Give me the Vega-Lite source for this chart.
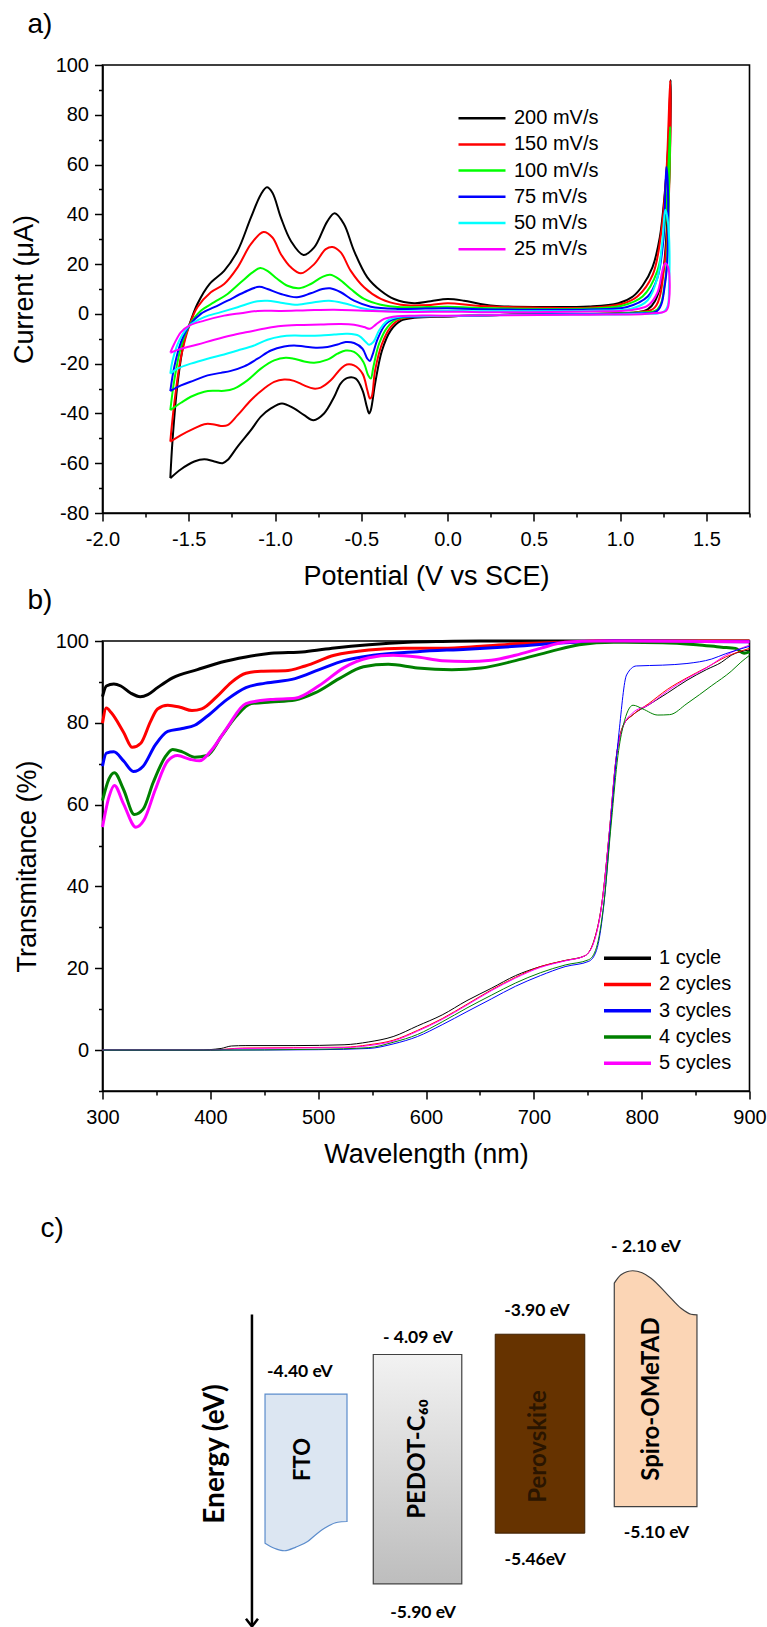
{
"$schema":"https://vega.github.io/schema/vega-lite/v6.json",
"padding":{"left":8.5,"top":10,"right":5,"bottom":0},
"background":"white",
"config":{"font":"Liberation Sans","view":{"stroke":"black","strokeWidth":1.6},
"axis":{"domainColor":"black","domainWidth":1.6,"tickColor":"black","tickWidth":1.5,"labelColor":"black","titleColor":"black","labelFont":"Liberation Sans","titleFont":"Liberation Sans","labelFontSize":20,"titleFontSize":27,"titleFontWeight":"normal","grid":false,"labelFlush":false,"labelOverlap":false},
"legend":{"labelFont":"Liberation Sans","labelFontSize":20,"labelColor":"black"}},
"spacing":128,
"bounds":"flush",
"resolve":{"scale":{"color":"independent"},"legend":{"color":"independent"}},
"vconcat":[
{"width":647,"height":448,
"title":{"text":"a)","anchor":"start","frame":"group","dx":-75,"offset":16,"fontSize":28,"fontWeight":"normal","font":"Liberation Sans","color":"black"},
"data":{"values":[
{"s":"200 mV/s","i":1,"x":-1.607,"y":-66},{"s":"200 mV/s","i":2,"x":-1.594,"y":-50.7},{"s":"200 mV/s","i":3,"x":-1.565,"y":-28},{"s":"200 mV/s","i":4,"x":-1.526,"y":-10.7},{"s":"200 mV/s","i":5,"x":-1.488,"y":-2.7},{"s":"200 mV/s","i":6,"x":-1.45,"y":4},{"s":"200 mV/s","i":7,"x":-1.38,"y":12},{"s":"200 mV/s","i":8,"x":-1.295,"y":17.3},{"s":"200 mV/s","i":9,"x":-1.217,"y":25.3},{"s":"200 mV/s","i":10,"x":-1.14,"y":38.7},{"s":"200 mV/s","i":11,"x":-1.082,"y":48},{"s":"200 mV/s","i":12,"x":-1.047,"y":50.9},{"s":"200 mV/s","i":13,"x":-1.015,"y":48.7},{"s":"200 mV/s","i":14,"x":-0.966,"y":38.7},{"s":"200 mV/s","i":15,"x":-0.908,"y":29.3},{"s":"200 mV/s","i":16,"x":-0.835,"y":23.7},{"s":"200 mV/s","i":17,"x":-0.773,"y":26.7},{"s":"200 mV/s","i":18,"x":-0.696,"y":37.3},{"s":"200 mV/s","i":19,"x":-0.654,"y":40.4},{"s":"200 mV/s","i":20,"x":-0.6,"y":36},{"s":"200 mV/s","i":21,"x":-0.542,"y":25.3},{"s":"200 mV/s","i":22,"x":-0.465,"y":14.7},{"s":"200 mV/s","i":23,"x":-0.387,"y":9.3},{"s":"200 mV/s","i":24,"x":-0.31,"y":6},{"s":"200 mV/s","i":25,"x":-0.194,"y":4.3},{"s":"200 mV/s","i":26,"x":-0.098,"y":5.1},{"s":"200 mV/s","i":27,"x":0,"y":6},{"s":"200 mV/s","i":28,"x":0.095,"y":5.3},{"s":"200 mV/s","i":29,"x":0.19,"y":4},{"s":"200 mV/s","i":30,"x":0.3,"y":3.1},{"s":"200 mV/s","i":31,"x":0.535,"y":2.8},{"s":"200 mV/s","i":32,"x":0.819,"y":3},{"s":"200 mV/s","i":33,"x":0.99,"y":4.3},{"s":"200 mV/s","i":34,"x":1.074,"y":7},{"s":"200 mV/s","i":35,"x":1.131,"y":11.4},{"s":"200 mV/s","i":36,"x":1.188,"y":18.8},{"s":"200 mV/s","i":37,"x":1.23,"y":30.7},{"s":"200 mV/s","i":38,"x":1.259,"y":48.5},{"s":"200 mV/s","i":39,"x":1.278,"y":66.3},{"s":"200 mV/s","i":40,"x":1.293,"y":94},{"s":"200 mV/s","i":41,"x":1.293,"y":81},{"s":"200 mV/s","i":42,"x":1.273,"y":36.6},{"s":"200 mV/s","i":43,"x":1.23,"y":10},{"s":"200 mV/s","i":44,"x":1.16,"y":1.8},{"s":"200 mV/s","i":45,"x":0.96,"y":0.3},{"s":"200 mV/s","i":46,"x":0.535,"y":-0.1},{"s":"200 mV/s","i":47,"x":0.19,"y":-0.6},{"s":"200 mV/s","i":48,"x":0,"y":-1},{"s":"200 mV/s","i":49,"x":-0.194,"y":-1.6},{"s":"200 mV/s","i":50,"x":-0.27,"y":-2.7},{"s":"200 mV/s","i":51,"x":-0.33,"y":-6.7},{"s":"200 mV/s","i":52,"x":-0.38,"y":-14.7},{"s":"200 mV/s","i":53,"x":-0.42,"y":-28},{"s":"200 mV/s","i":54,"x":-0.445,"y":-38.7},{"s":"200 mV/s","i":55,"x":-0.455,"y":-40},{"s":"200 mV/s","i":56,"x":-0.468,"y":-37.3},{"s":"200 mV/s","i":57,"x":-0.493,"y":-30.7},{"s":"200 mV/s","i":58,"x":-0.532,"y":-26},{"s":"200 mV/s","i":59,"x":-0.58,"y":-25.7},{"s":"200 mV/s","i":60,"x":-0.62,"y":-28},{"s":"200 mV/s","i":61,"x":-0.657,"y":-33.3},{"s":"200 mV/s","i":62,"x":-0.716,"y":-40},{"s":"200 mV/s","i":63,"x":-0.777,"y":-42.7},{"s":"200 mV/s","i":64,"x":-0.831,"y":-40.7},{"s":"200 mV/s","i":65,"x":-0.89,"y":-38},{"s":"200 mV/s","i":66,"x":-0.96,"y":-36},{"s":"200 mV/s","i":67,"x":-1.024,"y":-38},{"s":"200 mV/s","i":68,"x":-1.082,"y":-41.3},{"s":"200 mV/s","i":69,"x":-1.14,"y":-46.7},{"s":"200 mV/s","i":70,"x":-1.217,"y":-53.3},{"s":"200 mV/s","i":71,"x":-1.275,"y":-58.7},{"s":"200 mV/s","i":72,"x":-1.304,"y":-60},{"s":"200 mV/s","i":73,"x":-1.352,"y":-59.3},{"s":"200 mV/s","i":74,"x":-1.41,"y":-58.4},{"s":"200 mV/s","i":75,"x":-1.468,"y":-59.3},{"s":"200 mV/s","i":76,"x":-1.545,"y":-62.4},{"s":"200 mV/s","i":77,"x":-1.607,"y":-66},
{"s":"150 mV/s","i":1,"x":-1.607,"y":-51.3},{"s":"150 mV/s","i":2,"x":-1.584,"y":-36},{"s":"150 mV/s","i":3,"x":-1.545,"y":-17.3},{"s":"150 mV/s","i":4,"x":-1.497,"y":-4.7},{"s":"150 mV/s","i":5,"x":-1.45,"y":2.7},{"s":"150 mV/s","i":6,"x":-1.372,"y":8.7},{"s":"150 mV/s","i":7,"x":-1.295,"y":12},{"s":"150 mV/s","i":8,"x":-1.217,"y":18.7},{"s":"150 mV/s","i":9,"x":-1.14,"y":28},{"s":"150 mV/s","i":10,"x":-1.067,"y":32.9},{"s":"150 mV/s","i":11,"x":-1.015,"y":30.7},{"s":"150 mV/s","i":12,"x":-0.966,"y":24},{"s":"150 mV/s","i":13,"x":-0.908,"y":18.7},{"s":"150 mV/s","i":14,"x":-0.85,"y":16.3},{"s":"150 mV/s","i":15,"x":-0.773,"y":20},{"s":"150 mV/s","i":16,"x":-0.706,"y":26},{"s":"150 mV/s","i":17,"x":-0.667,"y":26.9},{"s":"150 mV/s","i":18,"x":-0.619,"y":24.7},{"s":"150 mV/s","i":19,"x":-0.561,"y":17.3},{"s":"150 mV/s","i":20,"x":-0.484,"y":10.7},{"s":"150 mV/s","i":21,"x":-0.387,"y":6},{"s":"150 mV/s","i":22,"x":-0.271,"y":3.7},{"s":"150 mV/s","i":23,"x":-0.098,"y":3.6},{"s":"150 mV/s","i":24,"x":0,"y":4.3},{"s":"150 mV/s","i":25,"x":0.19,"y":3.2},{"s":"150 mV/s","i":26,"x":0.535,"y":2.5},{"s":"150 mV/s","i":27,"x":0.82,"y":2.5},{"s":"150 mV/s","i":28,"x":1.01,"y":4},{"s":"150 mV/s","i":29,"x":1.1,"y":7},{"s":"150 mV/s","i":30,"x":1.19,"y":15.9},{"s":"150 mV/s","i":31,"x":1.24,"y":33.7},{"s":"150 mV/s","i":32,"x":1.27,"y":58.9},{"s":"150 mV/s","i":33,"x":1.29,"y":93.7},{"s":"150 mV/s","i":34,"x":1.29,"y":66},{"s":"150 mV/s","i":35,"x":1.26,"y":21.8},{"s":"150 mV/s","i":36,"x":1.2,"y":2.5},{"s":"150 mV/s","i":37,"x":1.1,"y":0.7},{"s":"150 mV/s","i":38,"x":0.535,"y":-0.1},{"s":"150 mV/s","i":39,"x":0.19,"y":-0.6},{"s":"150 mV/s","i":40,"x":0,"y":-1},{"s":"150 mV/s","i":41,"x":-0.194,"y":-1.3},{"s":"150 mV/s","i":42,"x":-0.27,"y":-2},{"s":"150 mV/s","i":43,"x":-0.33,"y":-5.3},{"s":"150 mV/s","i":44,"x":-0.38,"y":-12},{"s":"150 mV/s","i":45,"x":-0.42,"y":-22.7},{"s":"150 mV/s","i":46,"x":-0.44,"y":-33.3},{"s":"150 mV/s","i":47,"x":-0.45,"y":-34},{"s":"150 mV/s","i":48,"x":-0.465,"y":-30.7},{"s":"150 mV/s","i":49,"x":-0.493,"y":-24},{"s":"150 mV/s","i":50,"x":-0.542,"y":-20.7},{"s":"150 mV/s","i":51,"x":-0.584,"y":-20.3},{"s":"150 mV/s","i":52,"x":-0.619,"y":-22},{"s":"150 mV/s","i":53,"x":-0.677,"y":-26.7},{"s":"150 mV/s","i":54,"x":-0.735,"y":-29.6},{"s":"150 mV/s","i":55,"x":-0.777,"y":-30},{"s":"150 mV/s","i":56,"x":-0.831,"y":-28.7},{"s":"150 mV/s","i":57,"x":-0.89,"y":-26.9},{"s":"150 mV/s","i":58,"x":-0.947,"y":-26.4},{"s":"150 mV/s","i":59,"x":-1.005,"y":-27.3},{"s":"150 mV/s","i":60,"x":-1.063,"y":-30},{"s":"150 mV/s","i":61,"x":-1.14,"y":-34.7},{"s":"150 mV/s","i":62,"x":-1.217,"y":-40.7},{"s":"150 mV/s","i":63,"x":-1.275,"y":-44.7},{"s":"150 mV/s","i":64,"x":-1.314,"y":-45},{"s":"150 mV/s","i":65,"x":-1.362,"y":-44.3},{"s":"150 mV/s","i":66,"x":-1.41,"y":-44.3},{"s":"150 mV/s","i":67,"x":-1.468,"y":-46},{"s":"150 mV/s","i":68,"x":-1.545,"y":-48.7},{"s":"150 mV/s","i":69,"x":-1.607,"y":-51.3},
{"s":"100 mV/s","i":1,"x":-1.607,"y":-38.7},{"s":"100 mV/s","i":2,"x":-1.584,"y":-26.7},{"s":"100 mV/s","i":3,"x":-1.545,"y":-13.3},{"s":"100 mV/s","i":4,"x":-1.497,"y":-4.7},{"s":"100 mV/s","i":5,"x":-1.43,"y":1.3},{"s":"100 mV/s","i":6,"x":-1.352,"y":4.7},{"s":"100 mV/s","i":7,"x":-1.275,"y":8},{"s":"100 mV/s","i":8,"x":-1.198,"y":12.7},{"s":"100 mV/s","i":9,"x":-1.13,"y":16.7},{"s":"100 mV/s","i":10,"x":-1.086,"y":18.4},{"s":"100 mV/s","i":11,"x":-1.044,"y":17.3},{"s":"100 mV/s","i":12,"x":-0.986,"y":14},{"s":"100 mV/s","i":13,"x":-0.928,"y":11.3},{"s":"100 mV/s","i":14,"x":-0.86,"y":10.3},{"s":"100 mV/s","i":15,"x":-0.793,"y":12},{"s":"100 mV/s","i":16,"x":-0.725,"y":14.9},{"s":"100 mV/s","i":17,"x":-0.681,"y":15.7},{"s":"100 mV/s","i":18,"x":-0.629,"y":14},{"s":"100 mV/s","i":19,"x":-0.561,"y":10},{"s":"100 mV/s","i":20,"x":-0.484,"y":6},{"s":"100 mV/s","i":21,"x":-0.387,"y":3.7},{"s":"100 mV/s","i":22,"x":-0.271,"y":2.7},{"s":"100 mV/s","i":23,"x":0,"y":2.9},{"s":"100 mV/s","i":24,"x":0.19,"y":2.4},{"s":"100 mV/s","i":25,"x":0.82,"y":2.2},{"s":"100 mV/s","i":26,"x":1.01,"y":3.3},{"s":"100 mV/s","i":27,"x":1.13,"y":7},{"s":"100 mV/s","i":28,"x":1.216,"y":17.3},{"s":"100 mV/s","i":29,"x":1.26,"y":36.6},{"s":"100 mV/s","i":30,"x":1.28,"y":58.9},{"s":"100 mV/s","i":31,"x":1.29,"y":75.2},{"s":"100 mV/s","i":32,"x":1.284,"y":51.5},{"s":"100 mV/s","i":33,"x":1.26,"y":12.9},{"s":"100 mV/s","i":34,"x":1.216,"y":1.8},{"s":"100 mV/s","i":35,"x":1.1,"y":0.6},{"s":"100 mV/s","i":36,"x":0.535,"y":-0.1},{"s":"100 mV/s","i":37,"x":0,"y":-0.9},{"s":"100 mV/s","i":38,"x":-0.194,"y":-1.1},{"s":"100 mV/s","i":39,"x":-0.29,"y":-2},{"s":"100 mV/s","i":40,"x":-0.348,"y":-5.3},{"s":"100 mV/s","i":41,"x":-0.397,"y":-12},{"s":"100 mV/s","i":42,"x":-0.43,"y":-21.3},{"s":"100 mV/s","i":43,"x":-0.445,"y":-26},{"s":"100 mV/s","i":44,"x":-0.46,"y":-24.7},{"s":"100 mV/s","i":45,"x":-0.488,"y":-19.3},{"s":"100 mV/s","i":46,"x":-0.542,"y":-15.3},{"s":"100 mV/s","i":47,"x":-0.59,"y":-14.7},{"s":"100 mV/s","i":48,"x":-0.638,"y":-16},{"s":"100 mV/s","i":49,"x":-0.696,"y":-18.4},{"s":"100 mV/s","i":50,"x":-0.773,"y":-19.6},{"s":"100 mV/s","i":51,"x":-0.831,"y":-19.1},{"s":"100 mV/s","i":52,"x":-0.89,"y":-18},{"s":"100 mV/s","i":53,"x":-0.938,"y":-17.6},{"s":"100 mV/s","i":54,"x":-1.005,"y":-18.7},{"s":"100 mV/s","i":55,"x":-1.082,"y":-22},{"s":"100 mV/s","i":56,"x":-1.16,"y":-26.7},{"s":"100 mV/s","i":57,"x":-1.237,"y":-30},{"s":"100 mV/s","i":58,"x":-1.295,"y":-30.9},{"s":"100 mV/s","i":59,"x":-1.352,"y":-30.9},{"s":"100 mV/s","i":60,"x":-1.41,"y":-31.3},{"s":"100 mV/s","i":61,"x":-1.488,"y":-33.3},{"s":"100 mV/s","i":62,"x":-1.545,"y":-35.7},{"s":"100 mV/s","i":63,"x":-1.607,"y":-38.7},
{"s":"75 mV/s","i":1,"x":-1.607,"y":-31},{"s":"75 mV/s","i":2,"x":-1.584,"y":-21.3},{"s":"75 mV/s","i":3,"x":-1.545,"y":-11.3},{"s":"75 mV/s","i":4,"x":-1.497,"y":-4.7},{"s":"75 mV/s","i":5,"x":-1.43,"y":0},{"s":"75 mV/s","i":6,"x":-1.352,"y":2.7},{"s":"75 mV/s","i":7,"x":-1.275,"y":5.3},{"s":"75 mV/s","i":8,"x":-1.179,"y":8.7},{"s":"75 mV/s","i":9,"x":-1.092,"y":10.9},{"s":"75 mV/s","i":10,"x":-1.044,"y":10},{"s":"75 mV/s","i":11,"x":-0.966,"y":8},{"s":"75 mV/s","i":12,"x":-0.873,"y":6.7},{"s":"75 mV/s","i":13,"x":-0.793,"y":8.3},{"s":"75 mV/s","i":14,"x":-0.725,"y":10},{"s":"75 mV/s","i":15,"x":-0.681,"y":10.3},{"s":"75 mV/s","i":16,"x":-0.619,"y":8.7},{"s":"75 mV/s","i":17,"x":-0.542,"y":5.3},{"s":"75 mV/s","i":18,"x":-0.445,"y":2.9},{"s":"75 mV/s","i":19,"x":-0.29,"y":2},{"s":"75 mV/s","i":20,"x":0,"y":2.3},{"s":"75 mV/s","i":21,"x":0.19,"y":1.9},{"s":"75 mV/s","i":22,"x":0.82,"y":1.8},{"s":"75 mV/s","i":23,"x":1.04,"y":2.8},{"s":"75 mV/s","i":24,"x":1.16,"y":7},{"s":"75 mV/s","i":25,"x":1.216,"y":14.4},{"s":"75 mV/s","i":26,"x":1.25,"y":29.2},{"s":"75 mV/s","i":27,"x":1.268,"y":59},{"s":"75 mV/s","i":28,"x":1.278,"y":48.5},{"s":"75 mV/s","i":29,"x":1.262,"y":12.9},{"s":"75 mV/s","i":30,"x":1.216,"y":1.3},{"s":"75 mV/s","i":31,"x":1.1,"y":0.3},{"s":"75 mV/s","i":32,"x":0.535,"y":-0.1},{"s":"75 mV/s","i":33,"x":0,"y":-0.9},{"s":"75 mV/s","i":34,"x":-0.194,"y":-1.1},{"s":"75 mV/s","i":35,"x":-0.29,"y":-1.6},{"s":"75 mV/s","i":36,"x":-0.357,"y":-4},{"s":"75 mV/s","i":37,"x":-0.405,"y":-10},{"s":"75 mV/s","i":38,"x":-0.436,"y":-16.7},{"s":"75 mV/s","i":39,"x":-0.45,"y":-18.9},{"s":"75 mV/s","i":40,"x":-0.465,"y":-18},{"s":"75 mV/s","i":41,"x":-0.493,"y":-14},{"s":"75 mV/s","i":42,"x":-0.542,"y":-11.7},{"s":"75 mV/s","i":43,"x":-0.59,"y":-11.3},{"s":"75 mV/s","i":44,"x":-0.638,"y":-12.3},{"s":"75 mV/s","i":45,"x":-0.696,"y":-13.3},{"s":"75 mV/s","i":46,"x":-0.764,"y":-13.6},{"s":"75 mV/s","i":47,"x":-0.831,"y":-13.1},{"s":"75 mV/s","i":48,"x":-0.89,"y":-12.7},{"s":"75 mV/s","i":49,"x":-0.947,"y":-13.1},{"s":"75 mV/s","i":50,"x":-1.024,"y":-14.7},{"s":"75 mV/s","i":51,"x":-1.101,"y":-18},{"s":"75 mV/s","i":52,"x":-1.179,"y":-21.1},{"s":"75 mV/s","i":53,"x":-1.256,"y":-22.9},{"s":"75 mV/s","i":54,"x":-1.314,"y":-23.7},{"s":"75 mV/s","i":55,"x":-1.391,"y":-24.7},{"s":"75 mV/s","i":56,"x":-1.468,"y":-26.7},{"s":"75 mV/s","i":57,"x":-1.545,"y":-28.7},{"s":"75 mV/s","i":58,"x":-1.607,"y":-31},
{"s":"50 mV/s","i":1,"x":-1.607,"y":-24},{"s":"50 mV/s","i":2,"x":-1.594,"y":-18.7},{"s":"50 mV/s","i":3,"x":-1.555,"y":-10.7},{"s":"50 mV/s","i":4,"x":-1.497,"y":-4.7},{"s":"50 mV/s","i":5,"x":-1.41,"y":-1.3},{"s":"50 mV/s","i":6,"x":-1.314,"y":0.7},{"s":"50 mV/s","i":7,"x":-1.217,"y":2.7},{"s":"50 mV/s","i":8,"x":-1.101,"y":5.1},{"s":"50 mV/s","i":9,"x":-1.044,"y":5.3},{"s":"50 mV/s","i":10,"x":-0.966,"y":4.5},{"s":"50 mV/s","i":11,"x":-0.87,"y":3.7},{"s":"50 mV/s","i":12,"x":-0.773,"y":4.7},{"s":"50 mV/s","i":13,"x":-0.687,"y":5.3},{"s":"50 mV/s","i":14,"x":-0.6,"y":4.3},{"s":"50 mV/s","i":15,"x":-0.503,"y":2.4},{"s":"50 mV/s","i":16,"x":-0.387,"y":1.3},{"s":"50 mV/s","i":17,"x":-0.194,"y":1.1},{"s":"50 mV/s","i":18,"x":0,"y":1.3},{"s":"50 mV/s","i":19,"x":0.19,"y":1.1},{"s":"50 mV/s","i":20,"x":0.82,"y":1.3},{"s":"50 mV/s","i":21,"x":1.07,"y":2.2},{"s":"50 mV/s","i":22,"x":1.16,"y":5.5},{"s":"50 mV/s","i":23,"x":1.216,"y":14.4},{"s":"50 mV/s","i":24,"x":1.245,"y":29.2},{"s":"50 mV/s","i":25,"x":1.262,"y":41.8},{"s":"50 mV/s","i":26,"x":1.278,"y":36.6},{"s":"50 mV/s","i":27,"x":1.284,"y":12.9},{"s":"50 mV/s","i":28,"x":1.26,"y":1.3},{"s":"50 mV/s","i":29,"x":1.1,"y":0.1},{"s":"50 mV/s","i":30,"x":0.535,"y":-0.3},{"s":"50 mV/s","i":31,"x":0,"y":-0.8},{"s":"50 mV/s","i":32,"x":-0.194,"y":-0.9},{"s":"50 mV/s","i":33,"x":-0.29,"y":-1.3},{"s":"50 mV/s","i":34,"x":-0.348,"y":-2.7},{"s":"50 mV/s","i":35,"x":-0.397,"y":-6.7},{"s":"50 mV/s","i":36,"x":-0.43,"y":-11.3},{"s":"50 mV/s","i":37,"x":-0.455,"y":-12.4},{"s":"50 mV/s","i":38,"x":-0.474,"y":-11.3},{"s":"50 mV/s","i":39,"x":-0.513,"y":-8.8},{"s":"50 mV/s","i":40,"x":-0.58,"y":-8},{"s":"50 mV/s","i":41,"x":-0.657,"y":-8.3},{"s":"50 mV/s","i":42,"x":-0.735,"y":-8.7},{"s":"50 mV/s","i":43,"x":-0.812,"y":-8.8},{"s":"50 mV/s","i":44,"x":-0.89,"y":-8.7},{"s":"50 mV/s","i":45,"x":-0.966,"y":-9.1},{"s":"50 mV/s","i":46,"x":-1.044,"y":-10.4},{"s":"50 mV/s","i":47,"x":-1.121,"y":-12.7},{"s":"50 mV/s","i":48,"x":-1.217,"y":-14.7},{"s":"50 mV/s","i":49,"x":-1.295,"y":-16.3},{"s":"50 mV/s","i":50,"x":-1.391,"y":-18},{"s":"50 mV/s","i":51,"x":-1.488,"y":-20},{"s":"50 mV/s","i":52,"x":-1.565,"y":-22},{"s":"50 mV/s","i":53,"x":-1.607,"y":-24},
{"s":"25 mV/s","i":1,"x":-1.607,"y":-15.6},{"s":"25 mV/s","i":2,"x":-1.584,"y":-12},{"s":"25 mV/s","i":3,"x":-1.545,"y":-7.3},{"s":"25 mV/s","i":4,"x":-1.497,"y":-4.7},{"s":"25 mV/s","i":5,"x":-1.41,"y":-2.7},{"s":"25 mV/s","i":6,"x":-1.295,"y":-0.7},{"s":"25 mV/s","i":7,"x":-1.198,"y":0.3},{"s":"25 mV/s","i":8,"x":-1.101,"y":1.2},{"s":"25 mV/s","i":9,"x":-0.966,"y":1.2},{"s":"25 mV/s","i":10,"x":-0.812,"y":1.5},{"s":"25 mV/s","i":11,"x":-0.657,"y":1.7},{"s":"25 mV/s","i":12,"x":-0.484,"y":1.3},{"s":"25 mV/s","i":13,"x":-0.194,"y":0.8},{"s":"25 mV/s","i":14,"x":0,"y":0.9},{"s":"25 mV/s","i":15,"x":0.19,"y":0.7},{"s":"25 mV/s","i":16,"x":0.82,"y":1},{"s":"25 mV/s","i":17,"x":1.07,"y":1.6},{"s":"25 mV/s","i":18,"x":1.16,"y":3.3},{"s":"25 mV/s","i":19,"x":1.216,"y":8.5},{"s":"25 mV/s","i":20,"x":1.245,"y":17.3},{"s":"25 mV/s","i":21,"x":1.26,"y":20.3},{"s":"25 mV/s","i":22,"x":1.278,"y":18.8},{"s":"25 mV/s","i":23,"x":1.284,"y":5.5},{"s":"25 mV/s","i":24,"x":1.267,"y":1.3},{"s":"25 mV/s","i":25,"x":1.16,"y":0.1},{"s":"25 mV/s","i":26,"x":0.82,"y":-0.3},{"s":"25 mV/s","i":27,"x":0.535,"y":-0.4},{"s":"25 mV/s","i":28,"x":0,"y":-0.7},{"s":"25 mV/s","i":29,"x":-0.194,"y":-0.7},{"s":"25 mV/s","i":30,"x":-0.29,"y":-0.9},{"s":"25 mV/s","i":31,"x":-0.368,"y":-2},{"s":"25 mV/s","i":32,"x":-0.416,"y":-4.3},{"s":"25 mV/s","i":33,"x":-0.45,"y":-6},{"s":"25 mV/s","i":34,"x":-0.484,"y":-5.3},{"s":"25 mV/s","i":35,"x":-0.542,"y":-4.4},{"s":"25 mV/s","i":36,"x":-0.619,"y":-4.1},{"s":"25 mV/s","i":37,"x":-0.735,"y":-4.3},{"s":"25 mV/s","i":38,"x":-0.87,"y":-4.5},{"s":"25 mV/s","i":39,"x":-0.966,"y":-4.9},{"s":"25 mV/s","i":40,"x":-1.044,"y":-5.7},{"s":"25 mV/s","i":41,"x":-1.16,"y":-7.3},{"s":"25 mV/s","i":42,"x":-1.256,"y":-8.7},{"s":"25 mV/s","i":43,"x":-1.352,"y":-10.4},{"s":"25 mV/s","i":44,"x":-1.449,"y":-12.3},{"s":"25 mV/s","i":45,"x":-1.545,"y":-14},{"s":"25 mV/s","i":46,"x":-1.607,"y":-15.6}
]},
"mark":{"type":"line","strokeWidth":2,"interpolate":"catmull-rom"},
"encoding":{
"x":{"field":"x","type":"quantitative","title":"Potential (V vs SCE)","scale":{"domain":[-2,1.75],"nice":false,"zero":false},
"axis":{"values":[-2,-1.75,-1.5,-1.25,-1,-0.75,-0.5,-0.25,0,0.25,0.5,0.75,1,1.25,1.5,1.75],"labelExpr":"abs(datum.value*2-round(datum.value*2))<0.01 ? replace(format(datum.value,'.1f'),'−','-') : ''","tickSize":{"condition":{"test":"abs(datum.value*2-round(datum.value*2))<0.01","value":8},"value":4},"labelPadding":8,"titlePadding":14}},
"y":{"field":"y","type":"quantitative","title":"Current (μA)","scale":{"domain":[-80,100],"nice":false,"zero":false},
"axis":{"values":[-80,-70,-60,-50,-40,-30,-20,-10,0,10,20,30,40,50,60,70,80,90,100],"labelExpr":"datum.value % 20 === 0 ? replace(datum.label,'−','-') : ''","tickSize":{"condition":{"test":"datum.value % 20 === 0","value":8},"value":4},"labelPadding":6,"titlePadding":17}},
"color":{"field":"s","type":"nominal","scale":{"domain":["200 mV/s","150 mV/s","100 mV/s","75 mV/s","50 mV/s","25 mV/s"],"range":["#000000","#ff0000","#00ff00","#0000ff","#00ffff","#ff00ff"]},
"legend":{"title":null,"orient":"none","legendX":354.5,"legendY":41.2,"padding":0,"symbolType":"stroke","symbolSize":2209,"symbolStrokeWidth":2.5,"clipHeight":24,"rowPadding":2.2,"labelOffset":7}},
"order":{"field":"i","type":"quantitative"}
}},
{"width":647,"height":450,
"title":{"text":"b)","anchor":"start","frame":"group","dx":-75,"offset":16,"fontSize":28,"fontWeight":"normal","font":"Liberation Sans","color":"black"},
"encoding":{
"x":{"field":"w","type":"quantitative","title":"Wavelength (nm)","scale":{"domain":[300,900],"nice":false,"zero":false},
"axis":{"values":[300,350,400,450,500,550,600,650,700,750,800,850,900],"labelExpr":"datum.value % 100 === 0 ? datum.label : ''","tickSize":{"condition":{"test":"datum.value % 100 === 0","value":8},"value":4},"labelPadding":8,"titlePadding":14}},
"y":{"field":"t","type":"quantitative","title":"Transmitance (%)","scale":{"domain":[-10,100],"nice":false,"zero":false},
"axis":{"values":[-10,0,10,20,30,40,50,60,70,80,90,100],"labelExpr":"datum.value % 20 === 0 ? datum.label : ''","tickSize":{"condition":{"test":"datum.value % 20 === 0","value":8},"value":4},"labelPadding":6,"titlePadding":14}},
"color":{"field":"c","type":"nominal","scale":{"domain":["1 cycle","2 cycles","3 cycles","4 cycles","5 cycles"],"range":["#000000","#ff0000","#0000ff","#008000","#ff00ff"]},
"legend":{"title":null,"orient":"none","legendX":499.5,"legendY":305.2,"padding":0,"symbolType":"stroke","symbolSize":2209,"symbolStrokeWidth":3.5,"clipHeight":24,"rowPadding":2.25,"labelOffset":6}}
},
"layer":[
{"data":{"values":[
{"c":"1 cycle","w":300,"t":86.4},{"c":"1 cycle","w":303.6,"t":89},{"c":"1 cycle","w":310.5,"t":89.5},{"c":"1 cycle","w":317,"t":89},{"c":"1 cycle","w":326,"t":87.3},{"c":"1 cycle","w":335,"t":86.4},{"c":"1 cycle","w":342,"t":86.9},{"c":"1 cycle","w":351,"t":88.6},{"c":"1 cycle","w":365,"t":91},{"c":"1 cycle","w":388,"t":93},{"c":"1 cycle","w":410,"t":94.8},{"c":"1 cycle","w":433,"t":96.1},{"c":"1 cycle","w":456,"t":97},{"c":"1 cycle","w":488,"t":97.4},{"c":"1 cycle","w":515,"t":98.3},{"c":"1 cycle","w":547,"t":99.1},{"c":"1 cycle","w":583,"t":99.7},{"c":"1 cycle","w":615,"t":99.9},{"c":"1 cycle","w":650,"t":100},{"c":"1 cycle","w":900,"t":100},
{"c":"2 cycles","w":300,"t":79.9},{"c":"2 cycles","w":303.6,"t":83.6},{"c":"2 cycles","w":308,"t":82.5},{"c":"2 cycles","w":319.5,"t":77.7},{"c":"2 cycles","w":327.7,"t":74},{"c":"2 cycles","w":335.5,"t":75},{"c":"2 cycles","w":344.5,"t":80.3},{"c":"2 cycles","w":351,"t":83.4},{"c":"2 cycles","w":360.5,"t":84.3},{"c":"2 cycles","w":372,"t":83.8},{"c":"2 cycles","w":383,"t":83},{"c":"2 cycles","w":392,"t":83.4},{"c":"2 cycles","w":406,"t":86.4},{"c":"2 cycles","w":419.5,"t":89.9},{"c":"2 cycles","w":433,"t":92.1},{"c":"2 cycles","w":447,"t":92.6},{"c":"2 cycles","w":469.5,"t":92.7},{"c":"2 cycles","w":488,"t":93.9},{"c":"2 cycles","w":515,"t":96.5},{"c":"2 cycles","w":547,"t":97.8},{"c":"2 cycles","w":579,"t":98.2},{"c":"2 cycles","w":615,"t":98.2},{"c":"2 cycles","w":651,"t":98.7},{"c":"2 cycles","w":688,"t":99.4},{"c":"2 cycles","w":729,"t":99.7},{"c":"2 cycles","w":760,"t":100},{"c":"2 cycles","w":900,"t":100},
{"c":"3 cycles","w":300,"t":69.4},{"c":"3 cycles","w":303.6,"t":72.6},{"c":"3 cycles","w":310.5,"t":72.9},{"c":"3 cycles","w":319.5,"t":70.7},{"c":"3 cycles","w":328.6,"t":68.1},{"c":"3 cycles","w":337.7,"t":69.4},{"c":"3 cycles","w":349,"t":74.6},{"c":"3 cycles","w":360.5,"t":77.9},{"c":"3 cycles","w":374,"t":78.6},{"c":"3 cycles","w":385.5,"t":79.4},{"c":"3 cycles","w":397,"t":81.6},{"c":"3 cycles","w":415,"t":85.6},{"c":"3 cycles","w":433,"t":88.6},{"c":"3 cycles","w":451,"t":89.7},{"c":"3 cycles","w":478.6,"t":90.8},{"c":"3 cycles","w":501,"t":93},{"c":"3 cycles","w":524,"t":95.2},{"c":"3 cycles","w":551,"t":96.5},{"c":"3 cycles","w":592,"t":97.4},{"c":"3 cycles","w":638,"t":98},{"c":"3 cycles","w":683,"t":98.7},{"c":"3 cycles","w":729,"t":99.6},{"c":"3 cycles","w":774,"t":100},{"c":"3 cycles","w":900,"t":99.8},
{"c":"4 cycles","w":300,"t":61},{"c":"4 cycles","w":306,"t":66.3},{"c":"4 cycles","w":311,"t":67.8},{"c":"4 cycles","w":319.5,"t":63.7},{"c":"4 cycles","w":329.5,"t":57.6},{"c":"4 cycles","w":337.7,"t":58.9},{"c":"4 cycles","w":347,"t":65.4},{"c":"4 cycles","w":358,"t":71.6},{"c":"4 cycles","w":365,"t":73.5},{"c":"4 cycles","w":374,"t":72.9},{"c":"4 cycles","w":385.5,"t":71.6},{"c":"4 cycles","w":397,"t":72},{"c":"4 cycles","w":410.5,"t":76.8},{"c":"4 cycles","w":424,"t":81.6},{"c":"4 cycles","w":438,"t":84.7},{"c":"4 cycles","w":456,"t":85.1},{"c":"4 cycles","w":478.6,"t":85.6},{"c":"4 cycles","w":497,"t":87.3},{"c":"4 cycles","w":519.5,"t":90.8},{"c":"4 cycles","w":542,"t":93.7},{"c":"4 cycles","w":565,"t":94.3},{"c":"4 cycles","w":592,"t":93.4},{"c":"4 cycles","w":624,"t":93},{"c":"4 cycles","w":651,"t":93.4},{"c":"4 cycles","w":683,"t":95.2},{"c":"4 cycles","w":715,"t":97.4},{"c":"4 cycles","w":742,"t":99.1},{"c":"4 cycles","w":774,"t":99.7},{"c":"4 cycles","w":819.5,"t":99.6},{"c":"4 cycles","w":851,"t":99.1},{"c":"4 cycles","w":874,"t":98.5},{"c":"4 cycles","w":887,"t":98.2},{"c":"4 cycles","w":895,"t":97},{"c":"4 cycles","w":900,"t":97.4},
{"c":"5 cycles","w":300,"t":54.5},{"c":"5 cycles","w":306,"t":61.9},{"c":"5 cycles","w":311,"t":64.7},{"c":"5 cycles","w":319.5,"t":60.2},{"c":"5 cycles","w":331,"t":54.5},{"c":"5 cycles","w":338.6,"t":56.3},{"c":"5 cycles","w":349,"t":63.7},{"c":"5 cycles","w":360.5,"t":70.7},{"c":"5 cycles","w":369.5,"t":72},{"c":"5 cycles","w":381,"t":71.1},{"c":"5 cycles","w":390,"t":70.7},{"c":"5 cycles","w":401,"t":73.3},{"c":"5 cycles","w":415,"t":78.6},{"c":"5 cycles","w":433,"t":84.7},{"c":"5 cycles","w":456,"t":85.7},{"c":"5 cycles","w":478.6,"t":86},{"c":"5 cycles","w":501,"t":89.1},{"c":"5 cycles","w":524,"t":93.5},{"c":"5 cycles","w":547,"t":95.9},{"c":"5 cycles","w":569.5,"t":96.5},{"c":"5 cycles","w":592,"t":96.1},{"c":"5 cycles","w":615,"t":95.2},{"c":"5 cycles","w":638,"t":95},{"c":"5 cycles","w":660.5,"t":95.3},{"c":"5 cycles","w":683,"t":96.5},{"c":"5 cycles","w":706,"t":98.2},{"c":"5 cycles","w":729,"t":99.7},{"c":"5 cycles","w":760,"t":100},{"c":"5 cycles","w":900,"t":99.8}
]},
"mark":{"type":"line","strokeWidth":3,"interpolate":"monotone"}},
{"data":{"values":[
{"c":"1 cycle","w":300,"t":0},{"c":"1 cycle","w":388,"t":0},{"c":"1 cycle","w":410,"t":0.4},{"c":"1 cycle","w":419.5,"t":1},{"c":"1 cycle","w":433,"t":1.1},{"c":"1 cycle","w":478.6,"t":1.1},{"c":"1 cycle","w":524,"t":1.3},{"c":"1 cycle","w":547,"t":2},{"c":"1 cycle","w":569.5,"t":3.3},{"c":"1 cycle","w":592,"t":5.9},{"c":"1 cycle","w":615,"t":8.6},{"c":"1 cycle","w":638,"t":12.1},{"c":"1 cycle","w":660.5,"t":15.1},{"c":"1 cycle","w":683,"t":18.2},{"c":"1 cycle","w":706,"t":20.4},{"c":"1 cycle","w":729,"t":21.9},{"c":"1 cycle","w":747,"t":23},{"c":"1 cycle","w":756,"t":26.9},{"c":"1 cycle","w":763,"t":35.7},{"c":"1 cycle","w":770,"t":53.2},{"c":"1 cycle","w":776,"t":70.7},{"c":"1 cycle","w":783,"t":79.4},{"c":"1 cycle","w":792,"t":82},{"c":"1 cycle","w":806,"t":84.3},{"c":"1 cycle","w":824,"t":87.3},{"c":"1 cycle","w":842,"t":90.4},{"c":"1 cycle","w":860,"t":93},{"c":"1 cycle","w":874,"t":94.8},{"c":"1 cycle","w":883,"t":96.5},{"c":"1 cycle","w":900,"t":97.8},
{"c":"2 cycles","w":300,"t":0},{"c":"2 cycles","w":400,"t":0},{"c":"2 cycles","w":430,"t":0.5},{"c":"2 cycles","w":524,"t":0.7},{"c":"2 cycles","w":547,"t":1.3},{"c":"2 cycles","w":569.5,"t":2.4},{"c":"2 cycles","w":592,"t":4.8},{"c":"2 cycles","w":615,"t":7.7},{"c":"2 cycles","w":638,"t":11.2},{"c":"2 cycles","w":660.5,"t":14.7},{"c":"2 cycles","w":683,"t":17.8},{"c":"2 cycles","w":706,"t":20.4},{"c":"2 cycles","w":729,"t":21.9},{"c":"2 cycles","w":747,"t":23},{"c":"2 cycles","w":756,"t":26.9},{"c":"2 cycles","w":763,"t":35.7},{"c":"2 cycles","w":770,"t":53.2},{"c":"2 cycles","w":776,"t":70.7},{"c":"2 cycles","w":783,"t":79.4},{"c":"2 cycles","w":792,"t":82},{"c":"2 cycles","w":806,"t":84.6},{"c":"2 cycles","w":824,"t":88.2},{"c":"2 cycles","w":842,"t":91},{"c":"2 cycles","w":860,"t":93.5},{"c":"2 cycles","w":878,"t":96.1},{"c":"2 cycles","w":900,"t":98.2},
{"c":"5 cycles","w":300,"t":0},{"c":"5 cycles","w":400,"t":0},{"c":"5 cycles","w":430,"t":0.4},{"c":"5 cycles","w":524,"t":0.6},{"c":"5 cycles","w":547,"t":1.1},{"c":"5 cycles","w":569.5,"t":2.2},{"c":"5 cycles","w":592,"t":4.6},{"c":"5 cycles","w":615,"t":7.5},{"c":"5 cycles","w":638,"t":11},{"c":"5 cycles","w":660.5,"t":14.5},{"c":"5 cycles","w":683,"t":17.6},{"c":"5 cycles","w":706,"t":20.2},{"c":"5 cycles","w":729,"t":21.8},{"c":"5 cycles","w":747,"t":23},{"c":"5 cycles","w":756,"t":26.6},{"c":"5 cycles","w":763,"t":35.5},{"c":"5 cycles","w":770,"t":53},{"c":"5 cycles","w":776,"t":70.5},{"c":"5 cycles","w":783,"t":79.2},{"c":"5 cycles","w":792,"t":82.5},{"c":"5 cycles","w":806,"t":84.3},{"c":"5 cycles","w":824,"t":87.8},{"c":"5 cycles","w":842,"t":90.8},{"c":"5 cycles","w":860,"t":93.4},{"c":"5 cycles","w":878,"t":96.5},{"c":"5 cycles","w":900,"t":99},
{"c":"3 cycles","w":300,"t":0},{"c":"3 cycles","w":400,"t":0},{"c":"3 cycles","w":500,"t":0.1},{"c":"3 cycles","w":547,"t":0.4},{"c":"3 cycles","w":569.5,"t":1.5},{"c":"3 cycles","w":592,"t":3.3},{"c":"3 cycles","w":615,"t":6.2},{"c":"3 cycles","w":638,"t":9.4},{"c":"3 cycles","w":660.5,"t":12.5},{"c":"3 cycles","w":683,"t":15.6},{"c":"3 cycles","w":706,"t":18.2},{"c":"3 cycles","w":729,"t":20.4},{"c":"3 cycles","w":751,"t":21.7},{"c":"3 cycles","w":758,"t":24.3},{"c":"3 cycles","w":765,"t":35.7},{"c":"3 cycles","w":772,"t":57.6},{"c":"3 cycles","w":779,"t":77.7},{"c":"3 cycles","w":786,"t":91.7},{"c":"3 cycles","w":795,"t":93.9},{"c":"3 cycles","w":819.5,"t":94.1},{"c":"3 cycles","w":842,"t":94.5},{"c":"3 cycles","w":865,"t":95.6},{"c":"3 cycles","w":878,"t":96.9},{"c":"3 cycles","w":900,"t":98.7},
{"c":"4 cycles","w":300,"t":0},{"c":"4 cycles","w":400,"t":0},{"c":"4 cycles","w":500,"t":0.2},{"c":"4 cycles","w":547,"t":0.6},{"c":"4 cycles","w":569.5,"t":1.9},{"c":"4 cycles","w":592,"t":3.8},{"c":"4 cycles","w":615,"t":6.9},{"c":"4 cycles","w":638,"t":10.3},{"c":"4 cycles","w":660.5,"t":13.4},{"c":"4 cycles","w":683,"t":16.4},{"c":"4 cycles","w":706,"t":18.9},{"c":"4 cycles","w":729,"t":20.8},{"c":"4 cycles","w":751,"t":22.1},{"c":"4 cycles","w":758,"t":25},{"c":"4 cycles","w":765,"t":36},{"c":"4 cycles","w":772,"t":56},{"c":"4 cycles","w":778,"t":72},{"c":"4 cycles","w":783,"t":79.4},{"c":"4 cycles","w":792,"t":84.3},{"c":"4 cycles","w":801,"t":83.4},{"c":"4 cycles","w":815,"t":81.9},{"c":"4 cycles","w":826,"t":82},{"c":"4 cycles","w":842,"t":84.7},{"c":"4 cycles","w":865,"t":89.1},{"c":"4 cycles","w":883,"t":92.6},{"c":"4 cycles","w":892,"t":94.8},{"c":"4 cycles","w":900,"t":96.5}
]},
"mark":{"type":"line","strokeWidth":1,"interpolate":"monotone"}}
]},
{"width":647,"height":410,
"view":{"stroke":null},
"encoding":{
"x":{"field":"u","type":"quantitative","scale":{"domain":[0,10],"nice":false,"zero":false},"axis":null},
"y":{"field":"e","type":"quantitative","scale":{"domain":[-6.2565,-3.0205],"nice":false,"zero":false},"axis":null}
},
"layer":[
{"data":{"values":[{"u":2.31,"e":-3.774,"e2":-6.23}]},"mark":{"type":"rule","color":"black","strokeWidth":2.5},"encoding":{"y2":{"field":"e2"}}},
{"data":{"values":[{"u":2.31,"e":-6.237}]},"mark":{"type":"point","shape":"M-1,-1.3L0,0L1,-1.3","size":144,"filled":false,"stroke":"black","strokeWidth":2.5,"opacity":1}},
{"data":{"values":[{"u":2.512,"e":-5.579,"e2":-4.403},{"u":2.655,"e":-5.619,"e2":-4.403},{"u":2.81,"e":-5.639,"e2":-4.403},{"u":2.99,"e":-5.61,"e2":-4.403},{"u":3.17,"e":-5.566,"e2":-4.403},{"u":3.3,"e":-5.51,"e2":-4.403},{"u":3.43,"e":-5.461,"e2":-4.403},{"u":3.635,"e":-5.414,"e2":-4.403},{"u":3.779,"e":-5.408,"e2":-4.403}]},
"mark":{"type":"area","interpolate":"monotone","fill":"#dce6f2","stroke":"#5b8ccc","strokeWidth":1.2,"opacity":1},"encoding":{"y2":{"field":"e2"}}},
{"data":{"values":[{"u":4.185,"u2":5.553,"e":-4.09,"e2":-5.9}]},
"mark":{"type":"rect","fill":{"gradient":"linear","x1":0,"y1":0,"x2":0,"y2":1,"stops":[{"offset":0,"color":"#f2f2f2"},{"offset":1,"color":"#bdbdbd"}]},"stroke":"#404040","strokeWidth":1.2},"encoding":{"x2":{"field":"u2"},"y2":{"field":"e2"}}},
{"data":{"values":[{"u":6.07,"u2":7.454,"e":-3.93,"e2":-5.5}]},
"mark":{"type":"rect","fill":"#663300","stroke":"#3d1f00","strokeWidth":1},"encoding":{"x2":{"field":"u2"},"y2":{"field":"e2"}}},
{"data":{"values":[{"u":7.91,"e":-3.527,"e2":-5.29},{"u":8.014,"e":-3.461,"e2":-5.29},{"u":8.195,"e":-3.429,"e2":-5.29},{"u":8.34,"e":-3.445,"e2":-5.29},{"u":8.478,"e":-3.488,"e2":-5.29},{"u":8.736,"e":-3.619,"e2":-5.29},{"u":8.941,"e":-3.725,"e2":-5.29},{"u":9.096,"e":-3.772,"e2":-5.29},{"u":9.188,"e":-3.777,"e2":-5.29}]},
"mark":{"type":"area","interpolate":"monotone","fill":"#fbd5b5","stroke":"#404040","strokeWidth":1.2,"opacity":1},"encoding":{"y2":{"field":"e2"}}},
{"data":{"values":[{"t":"-4.40 eV","u":3.05,"e":-4.232},{"t":"- 4.09 eV","u":4.875,"e":-3.956},{"t":"-5.90 eV","u":4.955,"e":-6.134},{"t":"-3.90 eV","u":6.716,"e":-3.75},{"t":"-5.46eV","u":6.688,"e":-5.708},{"t":"- 2.10 eV","u":8.4,"e":-3.238},{"t":"-5.10 eV","u":8.563,"e":-5.5}]},
"mark":{"type":"text","font":"Lato","fontWeight":"bold","fontSize":17.5,"color":"black","align":"center","baseline":"middle"},"encoding":{"text":{"field":"t"}}},
{"data":{"values":[{"t":"FTO","u":3.094,"e":-4.919}]},
"mark":{"type":"text","font":"Lato","fontWeight":"bold","fontSize":22,"color":"black","align":"center","baseline":"middle","angle":270},"encoding":{"text":{"field":"t"}}},
{"data":{"values":[{"t":"PEDOT-C₆₀","u":4.87,"e":-4.915},{"t":"Spiro-OMeTAD","u":8.5,"e":-4.441}]},
"mark":{"type":"text","font":"Lato","fontWeight":"bold","fontSize":24,"color":"black","align":"center","baseline":"middle","angle":270},"encoding":{"text":{"field":"t"}}},
{"data":{"values":[{"t":"Perovskite","u":6.754,"e":-4.816}]},
"mark":{"type":"text","font":"Lato","fontWeight":"bold","fontSize":24,"color":"#2a1500","align":"center","baseline":"middle","angle":270},"encoding":{"text":{"field":"t"}}},
{"data":{"values":[{"t":"Energy (eV)","u":1.76,"e":-4.875}]},
"mark":{"type":"text","font":"Lato","fontWeight":"bold","fontSize":28,"color":"black","align":"center","baseline":"middle","angle":270},"encoding":{"text":{"field":"t"}}},
{"data":{"values":[{"t":"c)","u":-0.78,"e":-3.0995}]},
"mark":{"type":"text","font":"Liberation Sans","fontSize":28,"color":"black","align":"center","baseline":"middle"},"encoding":{"text":{"field":"t"}}}
]}
]
}
